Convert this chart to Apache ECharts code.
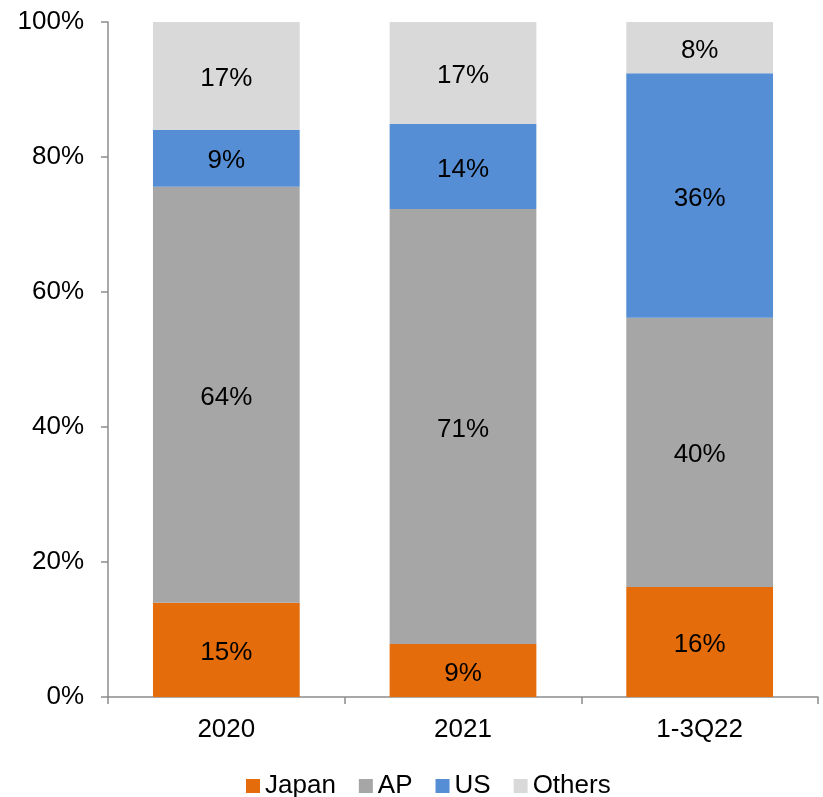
<!DOCTYPE html>
<html>
<head>
<meta charset="utf-8">
<script src="https://cdn.jsdelivr.net/npm/echarts@6/dist/echarts.min.js"></script>
<style>html,body{margin:0;padding:0;background:#fff;}#c{width:823px;height:797px;}</style>
</head>
<body>
<div id="c"></div>
<script>
// Raw values (labels show rounded raw values; bars are drawn as share of column total)
var categories = ['2020', '2021', '1-3Q22'];
var seriesNames = ['Japan', 'AP', 'US', 'Others'];
var japan  = [14.6, 8.7, 16.3];
var ap     = [64.4, 71.4, 39.9];
var us     = [8.8, 14.0, 36.2];
var others = [16.7, 16.7, 7.6];
var yTicks = [0, 20, 40, 60, 80, 100];
var colors = ['#E46C0A', '#A6A6A6', '#558ED5', '#D9D9D9'];

var raw = [japan, ap, us, others];
var totals = categories.map(function (c, i) {
  return raw.reduce(function (s, arr) { return s + arr[i]; }, 0);
});
var FONT = 'Liberation Sans, Arial, sans-serif';
var FS = 26;

var series = raw.map(function (arr, k) {
  return {
    name: seriesNames[k],
    type: 'bar',
    stack: 'total',
    barWidth: '62%',
    itemStyle: { color: colors[k] },
    label: {
      show: true,
      position: 'inside',
      offset: [0, 3],
      color: '#000',
      fontFamily: FONT,
      fontSize: FS,
      formatter: function (p) { return Math.round(arr[p.dataIndex]) + '%'; }
    },
    emphasis: { disabled: true },
    data: arr.map(function (v, i) { return v / totals[i] * 100; })
  };
});

var chart = echarts.init(document.getElementById('c'), null, { renderer: 'canvas' });
chart.setOption({
  animation: false,
  color: colors,
  grid: { left: 108, right: 5, top: 22, bottom: 100, containLabel: false },
  legend: {
    bottom: -7,
    left: 241,
    itemWidth: 14,
    itemHeight: 14,
    itemGap: 23,
    icon: 'rect',
    textStyle: { fontFamily: FONT, fontSize: FS, color: '#000' },
    data: seriesNames
  },
  xAxis: {
    type: 'category',
    data: categories,
    axisLine: { show: true, lineStyle: { color: '#8C8C8C', width: 1.5 } },
    axisTick: { show: true, length: 7, alignWithLabel: false, lineStyle: { color: '#8C8C8C', width: 1.5 } },
    axisLabel: { margin: 20, color: '#000', fontFamily: FONT, fontSize: FS }
  },
  yAxis: {
    type: 'value',
    min: yTicks[0],
    max: yTicks[yTicks.length - 1],
    interval: yTicks[1] - yTicks[0],
    splitLine: { show: false },
    axisLine: { show: true, lineStyle: { color: '#8C8C8C', width: 1.5 } },
    axisTick: { show: true, length: 7, lineStyle: { color: '#8C8C8C', width: 1.5 } },
    axisLabel: { margin: 24, color: '#000', fontFamily: FONT, fontSize: FS, formatter: '{value}%' }
  },
  series: series
});
</script>
</body>
</html>
